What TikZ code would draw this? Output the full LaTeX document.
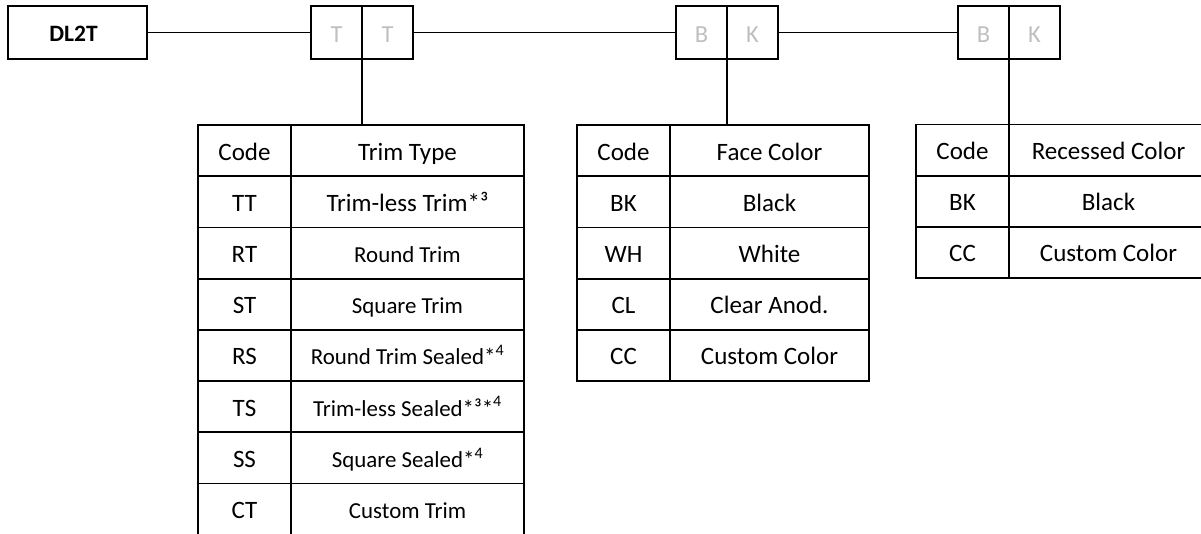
\documentclass[tikz,border=0pt]{standalone}
\usepackage{fontspec}
\setmainfont{Carlito}
\definecolor{lettergray}{HTML}{BFBFBF}
\begin{document}
\begin{tikzpicture}[x=1pt,y=-1pt,
  box/.style={draw, line width=1.8pt, anchor=north west, inner sep=0pt, outer sep=0pt},
  cell/.style={box, minimum height=51.2pt, text height=20pt, text depth=1.2pt, font=\fontsize{25}{28}\selectfont},
  small/.style={font=\fontsize{22.9}{26}\selectfont},
  codecol/.style={cell, minimum width=93pt},
  letter/.style={box, minimum width=51pt, minimum height=53pt, text height=20pt, text depth=0pt, text=lettergray, font=\fontsize{24.5}{28}\selectfont},
  conn/.style={line width=1.5pt}
]
\useasboundingbox (0,0) rectangle (1201,533);
\clip (0,0) rectangle (1201,533);

% top row
\node[box, minimum width=139pt, minimum height=53pt, text height=17pt, text depth=0pt, font=\fontsize{23.5}{28}\selectfont\bfseries] (dl) at (8,6) {DL2T\hspace*{8pt}};
\node[letter] (t1) at (311,6) {T};
\node[letter] (t2) at (362,6) {T};
\node[letter] (b1) at (676,6) {B};
\node[letter] (k1) at (727,6) {K};
\node[letter] (b2) at (958,6) {B};
\node[letter] (k2) at (1009,6) {K};

% Trim table
\node[codecol] (tc0) at (198,125) {Code};
\node[cell, minimum width=233pt] (td0) at (291,125) {Trim Type};
\node[codecol] (tc1) at (198,176.2) {TT};
\node[cell, minimum width=233pt] (td1) at (291,176.2) {Trim-less Trim*³};
\node[codecol] (tc2) at (198,227.4) {RT};
\node[cell, small, minimum width=233pt] (td2) at (291,227.4) {Round Trim};
\node[codecol] (tc3) at (198,278.6) {ST};
\node[cell, small, minimum width=233pt] (td3) at (291,278.6) {Square Trim};
\node[codecol] (tc4) at (198,329.8) {RS};
\node[cell, small, minimum width=233pt] (td4) at (291,329.8) {Round Trim Sealed*\textsuperscript{4}};
\node[codecol] (tc5) at (198,381) {TS};
\node[cell, small, minimum width=233pt] (td5) at (291,381) {Trim-less Sealed*³*\textsuperscript{4}};
\node[codecol] (tc6) at (198,432.2) {SS};
\node[cell, small, minimum width=233pt] (td6) at (291,432.2) {Square Sealed*\textsuperscript{4}};
\node[codecol] (tc7) at (198,483.4) {CT};
\node[cell, small, minimum width=233pt] (td7) at (291,483.4) {Custom Trim};

% Face table
\node[codecol] (fc0) at (577,125) {Code};
\node[cell, minimum width=199pt] (fd0) at (670,125) {Face Color};
\node[codecol] (fc1) at (577,176.2) {BK};
\node[cell, minimum width=199pt] (fd1) at (670,176.2) {Black};
\node[codecol] (fc2) at (577,227.4) {WH};
\node[cell, minimum width=199pt] (fd2) at (670,227.4) {White};
\node[codecol] (fc3) at (577,278.6) {CL};
\node[cell, minimum width=199pt] (fd3) at (670,278.6) {Clear Anod.};
\node[codecol] (fc4) at (577,329.8) {CC};
\node[cell, minimum width=199pt] (fd4) at (670,329.8) {Custom Color};

% Recessed table
\node[codecol] (rc0) at (916,124.5) {Code};
\node[cell, minimum width=199pt] (rd0) at (1009,124.5) {Recessed Color};
\node[codecol] (rc1) at (916,175.7) {BK};
\node[cell, minimum width=199pt] (rd1) at (1009,175.7) {Black};
\node[codecol] (rc2) at (916,226.9) {CC};
\node[cell, minimum width=199pt] (rd2) at (1009,226.9) {Custom Color};

% connectors
\draw[conn] (dl.east) -- (t1.west);
\draw[conn] (t2.east) -- (b1.west);
\draw[conn] (k1.east) -- (b2.west);
\draw[conn] (t1.south east) -- (t1.south east |- td0.north);
\draw[conn] (b1.south east) -- (b1.south east |- fd0.north);
\draw[conn] (b2.south east) -- (rd0.north west);
\end{tikzpicture}
\end{document}
